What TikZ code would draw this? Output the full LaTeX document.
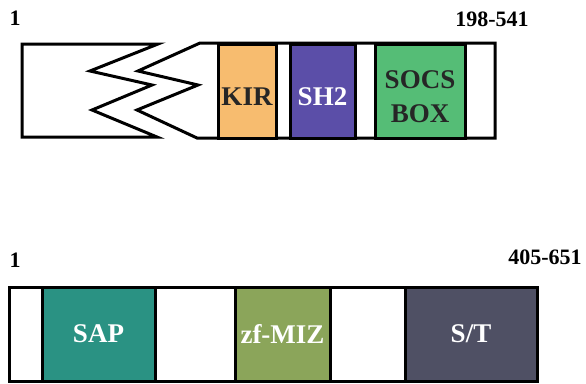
\documentclass[tikz,border=0pt]{standalone}
\usepackage{fontspec}
\setmainfont{Liberation Serif}
\newfontfamily\domfont{Liberation Serif}[BoldFont={Liberation Serif Bold}]
\begin{document}
\begin{tikzpicture}[x=1pt,y=-1pt,
  outline/.style={draw=black,line width=3pt,line join=miter,fill=white},
  dombox/.style={draw=black,line width=3pt,inner sep=0pt,minimum height=94pt},
  dlabel/.style={font=\domfont\bfseries\fontsize{27}{27}\selectfont,align=center,inner sep=0pt},
  poslabel/.style={font=\domfont\bfseries\fontsize{22}{22}\selectfont,inner sep=0pt}]
\useasboundingbox (0,0) rectangle (586,383);
\definecolor{kircol}{HTML}{F7BC6F}
\definecolor{shcol}{HTML}{5B4EA8}
\definecolor{socscol}{HTML}{55BD76}
\definecolor{sapcol}{HTML}{2A9283}
\definecolor{mizcol}{HTML}{8BA55A}
\definecolor{stcol}{HTML}{4F5064}

% upper protein: broken bar with a zigzag cut
\draw[outline] (22,44) -- (158,44) -- (90,71) -- (152,85) -- (92,110)
  -- (157,137) -- (22,137) -- cycle;
\draw[outline] (200,43) -- (495,43) -- (495,138) -- (197,138) -- (137,110)
  -- (198,85) -- (138,71) -- cycle;
\node[dombox,fill=kircol,minimum width=58pt] (kir) at (247,91) {};
\node[dombox,fill=shcol,minimum width=65pt] (sh2) at (322.5,91) {};
\node[dombox,fill=socscol,minimum width=90pt] (socs) at (420,91) {};
\node[dlabel,text=black!85] (kirtext) at ([yshift=-6pt]kir.center) {KIR};
\node[dlabel,text=white] (sh2text) at ([yshift=-6pt]sh2.center) {SH2};
\node[dlabel,text=black!85,font=\domfont\bfseries\fontsize{27}{34}\selectfont] (socstext) at ([yshift=-6pt]socs.center) {SOCS\\BOX};
\node[poslabel] (start1) at (15,18.5) {1};
\node[poslabel] (end1) at (492,19.5) {198-541};

% lower protein
\draw[outline] (9,287) rectangle (537,381);
\node[dombox,fill=sapcol,minimum width=113pt] (sap) at (98.5,334) {};
\node[dombox,fill=mizcol,minimum width=95pt] (miz) at (282.5,334) {};
\node[dombox,fill=stcol,minimum width=132pt] (st) at (471,334) {};
\node[dlabel,text=white] (saptext) at (sap.center) {SAP};
\node[dlabel,text=white] (miztext) at (miz.center) {zf-MIZ};
\node[dlabel,text=white] (sttext) at (st.center) {S/T};
\node[poslabel] (start2) at (15,260) {1};
\node[poslabel] (end2) at (545,257.5) {405-651};
\end{tikzpicture}
\end{document}
